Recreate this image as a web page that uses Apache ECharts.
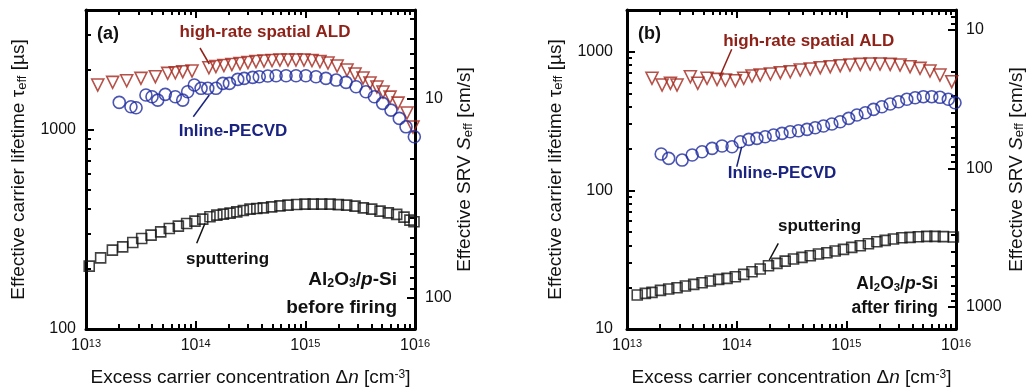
<!DOCTYPE html>
<html><head><meta charset="utf-8">
<script src="https://cdn.jsdelivr.net/npm/echarts@6/dist/echarts.min.js"></script>
<style>html,body{margin:0;padding:0;background:#fff}#c{width:1030px;height:390px}</style>
</head><body><div id="c"></div>
<script>
// ---------- data: panel (a) before firing ----------
const aALD_n = [1.28e13,1.75e13,2.35e13,3.17e13,4.29e13,5.56e13,6.52e13,7.62e13,9.27e13,1.32e14,1.53e14,1.81e14,2.14e14,2.54e14,3.00e14,3.55e14,4.20e14,4.97e14,5.87e14,6.95e14,8.22e14,9.72e14,1.15e15,1.36e15,1.61e15,1.95e15,2.40e15,2.84e15,3.36e15,3.89e15,4.50e15,5.11e15,5.92e15,7.00e15,8.45e15,9.59e15];
const aALD_tau = [1679,1733,1765,1815,1849,1923,1936,1959,1975,2051,2080,2104,2129,2154,2179,2204,2217,2230,2243,2243,2243,2243,2230,2204,2166,2092,1997,1907,1821,1719,1641,1549,1461,1363,1215,1033];
const aPEC_n = [2.01e13,2.57e13,2.86e13,3.52e13,4.00e13,4.51e13,5.28e13,6.52e13,7.62e13,8.45e13,9.72e13,1.12e14,1.29e14,1.53e14,1.77e14,2.03e14,2.42e14,2.77e14,3.31e14,3.80e14,4.54e14,5.41e14,6.67e14,8.22e14,1.01e15,1.25e15,1.54e15,1.91e15,2.35e15,2.90e15,3.57e15,4.26e15,5.07e15,6.04e15,7.19e15,8.28e15,9.86e15];
const aPEC_tau = [1374,1306,1291,1496,1467,1411,1508,1467,1411,1554,1680,1617,1617,1617,1713,1713,1794,1815,1836,1849,1864,1870,1870,1870,1870,1849,1815,1779,1733,1647,1554,1467,1359,1257,1142,1036,923];
const aSPU_n = [1.07e13,1.36e13,1.74e13,2.16e13,2.67e13,3.22e13,3.92e13,4.80e13,5.75e13,6.95e13,8.28e13,9.86e13,1.16e14,1.35e14,1.56e14,1.79e14,2.06e14,2.37e14,2.72e14,3.13e14,3.61e14,4.14e14,4.93e14,5.87e14,6.95e14,8.34e14,9.93e14,1.18e15,1.41e15,1.68e15,2.00e15,2.38e15,2.84e15,3.38e15,4.03e15,4.80e15,5.71e15,6.81e15,7.94e15,8.99e15,9.79e15];
const aSPU_tau = [206.8,227.7,248.9,258.6,272.1,285,296,307.6,319.9,328.6,338.9,348.1,356.2,365.9,373.1,377.5,381.9,387.6,394,399.9,403.1,405.9,410.7,415.5,418.9,422.3,423.8,423.8,423.8,423.8,421.4,418.9,414.1,405.9,399.9,390.8,383.2,376.2,364.6,352.2,345.4];
// ---------- data: panel (b) after firing ----------
const bALD_n = [1.69e13,2.09e13,2.49e13,2.86e13,3.78e13,4.42e13,5.37e13,6.62e13,7.89e13,9.72e13,1.16e14,1.38e14,1.64e14,2.03e14,2.50e14,3.08e14,3.80e14,4.69e14,5.78e14,7.13e14,8.79e14,1.08e15,1.34e15,1.65e15,2.03e15,2.51e15,3.09e15,3.81e15,4.70e15,5.79e15,7.14e15,9.14e15];
const bALD_tau = [643,575,592,575,660,592,643,632,625,618,643,668,679,691,706,717,738,750,767,780,793,802,811,815,815,811,802,780,759,726,679,608];
const bPEC_n = [2.05e13,2.40e13,3.18e13,3.93e13,4.84e13,5.97e13,7.36e13,9.08e13,1.08e14,1.29e14,1.53e14,1.82e14,2.17e14,2.59e14,3.08e14,3.66e14,4.38e14,5.20e14,6.19e14,7.38e14,8.79e14,1.05e15,1.25e15,1.49e15,1.77e15,2.11e15,2.51e15,2.99e15,3.56e15,4.24e15,5.04e15,6.01e15,7.14e15,8.51e15,9.79e15];
const bPEC_tau = [182.8,170.2,165.4,179.8,189.9,201.0,208.9,206.4,224.3,233.4,237.3,243.8,250.7,257.9,264.9,269.3,275.6,283,291.2,301,312.7,330.8,349.4,363.1,384.2,401.2,419.6,436,453.8,466,474,474,469,453.8,428.7];
const bSPU_n = [1.24e13,1.47e13,1.69e13,2.02e13,2.40e13,2.86e13,3.41e13,4.06e13,4.84e13,5.75e13,6.85e13,8.17e13,9.72e13,1.16e14,1.38e14,1.64e14,1.95e14,2.33e14,2.77e14,3.30e14,3.94e14,4.69e14,5.57e14,6.65e14,7.91e14,9.42e14,1.12e15,1.34e15,1.59e15,1.90e15,2.26e15,2.69e15,3.21e15,3.81e15,4.54e15,5.41e15,6.44e15,7.67e15,9.46e15];
const bSPU_tau = [17.57,18.07,18.37,19.0,19.41,19.84,20.40,20.99,21.55,22.17,22.80,23.18,23.82,24.79,25.88,27.07,28.58,29.74,30.90,31.95,32.86,33.75,34.71,35.47,36.49,37.53,38.80,39.84,41.19,42.59,43.59,44.54,45.50,45.81,46.28,46.59,46.59,46.4,46.04];
// axis ranges
const X_RANGE = [1e13, 1e16];
const TAU_RANGE_A = [100, 4000];
const TAU_RANGE_B = [10, 2000];
const W_CM = 0.0288;              // S_eff = W / (2 tau_eff)

const FONT = "'Liberation Sans', Arial, Helvetica, sans-serif";
const srv = t => W_CM * 1e6 / (2 * t);
const isPow10 = v => { const e = Math.log10(v); return Math.abs(e - Math.round(e)) < 1e-6; };
function logMinors(lo, hi) {
  const out = [];
  for (let k = Math.floor(Math.log10(lo)) - 1; k <= Math.ceil(Math.log10(hi)); k++) {
    for (let m = 2; m <= 9; m++) {
      const v = m * Math.pow(10, k);
      if (v > lo * 1.0001 && v < hi * 0.9999) out.push(Math.log10(v));
    }
  }
  return out;
}
const ALD_C = '#a3261a', PEC_C = '#1e2b9f';
const panels = [
  {left: 86, width: 329, tau: TAU_RANGE_A, mL: 10, nameL: 19, nameR: 465,
   ald: [aALD_n, aALD_tau], pec: [aPEC_n, aPEC_tau], spu: [aSPU_n, aSPU_tau]},
  {left: 627, width: 329, tau: TAU_RANGE_B, mL: 14, nameL: 555.5, nameR: 1016.5,
   ald: [bALD_n, bALD_tau], pec: [bPEC_n, bPEC_tau], spu: [bSPU_n, bSPU_tau]}
];
const GRID_TOP = 10, GRID_H = 319;

const grids = [], xAxes = [], yAxes = [], series = [];
const line = {show: true, onZero: false, lineStyle: {color: '#000', width: 3}};
const noLine = {show: false, onZero: false};
const tick = len => ({show: true, inside: true, length: len, lineStyle: {color: '#000', width: 2}});

panels.forEach((p, g) => {
  grids.push({left: p.left, width: p.width, top: GRID_TOP, height: GRID_H});
  const sMin = srv(p.tau[1]), sMax = srv(p.tau[0]);
  // x axes
  xAxes.push({type: 'log', gridIndex: g, position: 'bottom', min: X_RANGE[0], max: X_RANGE[1],
    axisLine: line, axisTick: tick(8), splitLine: {show: false},
    axisLabel: {margin: 9, formatter: v => '{b|10}{s|' + Math.round(Math.log10(v)) + '}',
      rich: {b: {fontSize: 16, fontFamily: FONT, color: '#111'},
             s: {fontSize: 11, fontFamily: FONT, color: '#111', verticalAlign: 'top'}}}});
  xAxes.push({type: 'log', gridIndex: g, position: 'top', min: X_RANGE[0], max: X_RANGE[1],
    axisLine: line, axisTick: tick(8), axisLabel: {show: false}, splitLine: {show: false}});
  const xm = logMinors(X_RANGE[0], X_RANGE[1]);
  ['bottom', 'top'].forEach(pos => xAxes.push({type: 'value', gridIndex: g, position: pos,
    min: Math.log10(X_RANGE[0]), max: Math.log10(X_RANGE[1]), axisLine: noLine,
    axisTick: Object.assign(tick(5), {customValues: xm}), axisLabel: {show: false}, splitLine: {show: false}}));
  // y axes
  yAxes.push({type: 'log', gridIndex: g, position: 'left', min: p.tau[0], max: p.tau[1],
    axisLine: line, axisTick: tick(8), splitLine: {show: false},
    axisLabel: {margin: p.mL, fontSize: 16, fontFamily: FONT, color: '#111',
      formatter: v => isPow10(v) ? String(Math.round(v)) : ''}});
  yAxes.push({type: 'log', gridIndex: g, position: 'right', inverse: true, min: sMin, max: sMax,
    axisLine: line, axisTick: tick(8), splitLine: {show: false},
    axisLabel: {margin: 10, fontSize: 16, fontFamily: FONT, color: '#111',
      formatter: v => isPow10(v) ? String(Math.round(v)) : ''}});
  yAxes.push({type: 'value', gridIndex: g, position: 'left', min: Math.log10(p.tau[0]), max: Math.log10(p.tau[1]),
    axisLine: noLine, axisTick: Object.assign(tick(5), {customValues: logMinors(p.tau[0], p.tau[1])}),
    axisLabel: {show: false}, splitLine: {show: false}});
  yAxes.push({type: 'value', gridIndex: g, position: 'right', inverse: true, min: Math.log10(sMin), max: Math.log10(sMax),
    axisLine: noLine, axisTick: Object.assign(tick(5), {customValues: logMinors(sMin, sMax)}),
    axisLabel: {show: false}, splitLine: {show: false}});
  // series
  const sc = (d, sym, color, size, rot) => ({type: 'scatter', xAxisIndex: g * 4, yAxisIndex: g * 4,
    data: d[0].map((v, i) => [v, d[1][i]]), symbol: sym, symbolSize: size, symbolRotate: rot || 0,
    itemStyle: {color: 'rgba(0,0,0,0)', borderColor: color, borderWidth: 1.6}, silent: true, z: 3});
  series.push(sc(p.spu, 'rect', '#111', 10));
  series.push(sc(p.ald, 'triangle', ALD_C, 12, 180));
  series.push(sc(p.pec, 'circle', PEC_C, 12));
});

// ---------- text: axis titles and annotations ----------
const reg = s => s + 'px ' + FONT;
const bold = s => 'bold ' + s + 'px ' + FONT;
const nameRich = {i: {font: 'italic ' + reg(19), fill: '#111'},
                  s: {font: reg(12), fill: '#111', verticalAlign: 'top'},
                  sub: {font: reg(13), fill: '#111', verticalAlign: 'bottom'}};
const title = (text, x, y, rot) => ({type: 'text', x: x, y: y, rotation: rot || 0, silent: true, z: 10,
  style: {text: text, font: reg(19), fill: '#111', align: 'center', verticalAlign: 'middle', rich: nameRich}});
const txt = (text, x, y, size, fill, align, rich) => ({type: 'text', x: x, y: y, silent: true, z: 10,
  style: {text: text, font: bold(size), fill: fill, align: align || 'center', verticalAlign: 'middle', rich: rich || {}}});
const ln = (x1, y1, x2, y2, c) => ({type: 'line', silent: true, z: 10, shape: {x1, y1, x2, y2},
  style: {stroke: c, lineWidth: 1.5}});
const alRich = size => ({sub: {font: bold(size * 0.65), fill: '#111', verticalAlign: 'bottom'},
  it: {font: 'italic ' + bold(size), fill: '#111'}});
const alText = 'Al{sub|2}O{sub|3}/{it|p}-Si';
const X_NAME = 'Excess carrier concentration Δ{i|n} [cm{s|-3}]';
const TAU_NAME = 'Effective carrier lifetime τ{sub|eff} [µs]';
const SRV_NAME = 'Effective SRV {i|S}{sub|eff} [cm/s]';
const midY = GRID_TOP + GRID_H / 2;
const graphics = [];
panels.forEach(p => {
  graphics.push(title(X_NAME, p.left + p.width / 2, 378));
  graphics.push(title(TAU_NAME, p.nameL, midY, Math.PI / 2));
  graphics.push(title(SRV_NAME, p.nameR, midY, Math.PI / 2));
});
graphics.push(
  txt('(a)', 97, 34, 18, '#111', 'left'),
  txt('high-rate spatial ALD', 265, 32.5, 17, '#8e2219'),
  ln(200, 48, 209.3, 64, '#8e2219'),
  txt('Inline-PECVD', 233, 131.5, 17, '#1a2380'),
  ln(193.3, 116.7, 209.3, 95, '#1a2380'),
  txt('sputtering', 227.5, 259.5, 17, '#111'),
  ln(196.7, 243.3, 205, 223.3, '#111'),
  txt(alText, 397, 280, 19, '#111', 'right', alRich(19)),
  txt('before firing', 397, 307.5, 19, '#111', 'right'),
  txt('(b)', 638, 34, 18, '#111', 'left'),
  txt('high-rate spatial ALD', 808.7, 41.5, 17, '#8e2219'),
  ln(731.7, 49.3, 720, 76, '#8e2219'),
  txt('Inline-PECVD', 782, 173.5, 17, '#1a2380'),
  ln(736.7, 166.7, 741.7, 146.7, '#1a2380'),
  txt('sputtering', 819.5, 226.5, 17, '#111'),
  ln(778.3, 243.3, 769.3, 260, '#111'),
  txt(alText, 938, 284, 17.5, '#111', 'right', alRich(17.5)),
  txt('after firing', 938, 308, 17.5, '#111', 'right')
);

const chart = echarts.init(document.getElementById('c'), null, {renderer: 'canvas'});
chart.setOption({animation: false, backgroundColor: '#fff',
  grid: grids, xAxis: xAxes, yAxis: yAxes, series: series, graphic: graphics});
</script></body></html>
